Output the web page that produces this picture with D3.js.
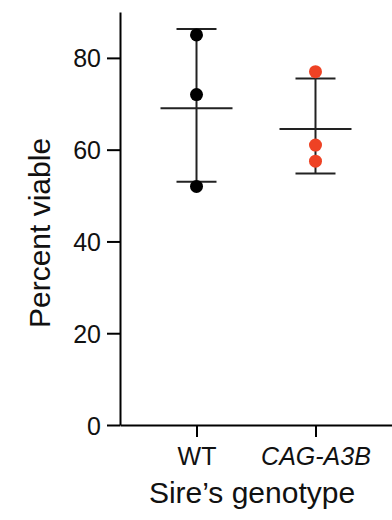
<!DOCTYPE html>
<html>
<head>
<meta charset="utf-8">
<script src="https://cdn.jsdelivr.net/npm/d3@7"></script>
<style>
  body { margin: 0; background: #fff; }
  text { font-family: "Liberation Sans", Arial, sans-serif; fill: #111; }
</style>
</head>
<body>
<script>
// categorias y valores
var genotypes = ["WT", "CAG-A3B"]
var wtValues = [85, 72, 52]
var cagValues = [77, 61, 57.5]
var meanValues = [69.0, 64.5]
var errHigh = [86.3, 75.5]   // media + DE
var errLow = [53.0, 54.8]    // media - DE
var yTicks = [0, 20, 40, 60, 80]
var pointColors = ["#000000", "#ee4224"]

var groups = [wtValues, cagValues]

var width = 392, height = 520

var svg = d3.select("body")
    .append("svg")
    .attr("width", width)
    .attr("height", height)

// escalas
var x = d3.scalePoint()
    .domain(genotypes)
    .range([120, 392])
    .padding(0.643)

var y = d3.scaleLinear()
    .domain([0, 90])
    .range([425, 12])

// eje Y
var yAxis = svg.append("g")
    .attr("transform", "translate(120,0)")
    .call(d3.axisLeft(y).tickValues(yTicks).tickSize(13).tickSizeOuter(0))
yAxis.select(".domain").attr("stroke", "#000").attr("stroke-width", 2)
yAxis.selectAll(".tick line").attr("stroke", "#000").attr("stroke-width", 2)
yAxis.selectAll(".tick text")
    .attr("x", -19)
    .attr("dy", "0.36em")
    .style("font-size", "25px")
    .style("font-family", "'Liberation Sans', Arial, sans-serif")
    .attr("fill", "#111")

// eje X
var xAxis = svg.append("g")
    .attr("transform", "translate(0,425)")
    .call(d3.axisBottom(x).tickSize(12).tickSizeOuter(0))
xAxis.select(".domain").attr("stroke", "#000").attr("stroke-width", 2)
xAxis.selectAll(".tick line").attr("stroke", "#000").attr("stroke-width", 2)
xAxis.selectAll(".tick text")
    .attr("y", 40)
    .attr("dy", 0)
    .style("font-size", "25px")
    .style("font-style", d => d == "CAG-A3B" ? "italic" : "normal")
    .style("font-family", "'Liberation Sans', Arial, sans-serif")
    .attr("fill", "#111")

// titulos
svg.append("text")
    .attr("transform", "translate(50,233) rotate(-90)")
    .attr("text-anchor", "middle")
    .style("font-size", "30px")
    .text("Percent viable")

svg.append("text")
    .attr("x", 252)
    .attr("y", 503)
    .attr("text-anchor", "middle")
    .style("font-size", "30px")
    .text("Sire\u2019s genotype")

// media y desviacion estandar
var err = svg.append("g")
    .attr("stroke", "#222")
    .attr("stroke-width", 2)

genotypes.forEach((g, i) => {
    var cx = x(g)
    err.append("line") // barra vertical
        .attr("x1", cx).attr("x2", cx)
        .attr("y1", y(errHigh[i])).attr("y2", y(errLow[i]))
    err.append("line") // tope superior
        .attr("x1", cx - 20).attr("x2", cx + 20)
        .attr("y1", y(errHigh[i])).attr("y2", y(errHigh[i]))
    err.append("line") // tope inferior
        .attr("x1", cx - 20).attr("x2", cx + 20)
        .attr("y1", y(errLow[i])).attr("y2", y(errLow[i]))
    err.append("line") // media
        .attr("x1", cx - 36).attr("x2", cx + 36)
        .attr("y1", y(meanValues[i])).attr("y2", y(meanValues[i]))
})

// puntos
groups.forEach((vals, i) => {
    svg.append("g")
        .selectAll("circle")
        .data(vals)
        .enter()
        .append("circle")
        .attr("cx", x(genotypes[i]))
        .attr("cy", d => y(d))
        .attr("r", 6.5)
        .attr("fill", pointColors[i])
})
</script>
</body>
</html>
